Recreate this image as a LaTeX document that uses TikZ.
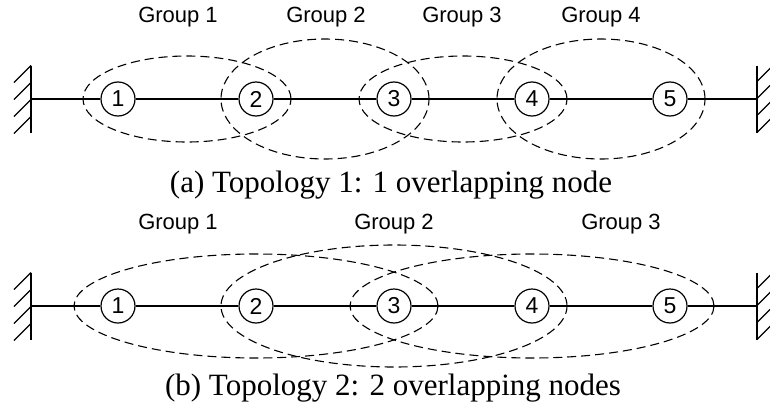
\documentclass[tikz,border=0pt]{standalone}
\usepackage{fontspec}
\setmainfont{Liberation Serif}
\setsansfont{Liberation Sans}
\usetikzlibrary{calc}

\begin{document}
\begin{tikzpicture}[x=1pt,y=1pt,mass/.style={shape=circle,draw=black,line width=1.2pt,minimum size=34pt,inner sep=0pt,font=\sffamily\fontsize{23}{26}\selectfont},grp/.style={dash pattern=on 9pt off 5pt,line width=1.1pt},glabel/.style={anchor=base,font=\sffamily\fontsize{22}{26}\selectfont},capt/.style={anchor=base,font=\fontsize{31}{36}\selectfont},wall/.style={line width=1.3pt}]
\useasboundingbox (0,0) rectangle (770,408);
\def\dx{138};
\def\xa{118};
\def\ya{309};
\def\yb{102};
\def\hw{33.5};
\def\xl{31};
\def\xr{757};

% topology 1
\foreach \i in {1,...,5}
  \node[mass] (a\i) at ({\xa+(\i-1)*\dx},\ya) {\i};
\coordinate (wa1) at (\xl,\ya);
\coordinate (wa2) at (\xr,\ya);
\draw[wall] (\xl,\ya+\hw) -- (\xl,\ya-\hw);
\draw[wall] (\xr,\ya+\hw) -- (\xr,\ya-\hw);
\foreach \k in {0,...,3} {
  \draw[wall] (\xl,\ya+\hw-17*\k) -- ++(-17,-17);
  \draw[wall] (\xr,\ya-\hw+17*\k) -- ++(17,17);
}
\draw[line width=1.2pt] (wa1) -- (a1) -- (a2) -- (a3) -- (a4) -- (a5) -- (wa2);

\draw[grp] ($(a1)!0.5!(a2)$) ellipse [x radius=104,y radius=43];
\draw[grp] ($(a2)!0.5!(a3)$) ellipse [x radius=104,y radius=60];
\draw[grp] ($(a3)!0.5!(a4)$) ellipse [x radius=104,y radius=43];
\draw[grp] ($(a4)!0.5!(a5)$) ellipse [x radius=104,y radius=60];

\node[glabel] (la1) at (178,385) {Group 1};
\node[glabel] (la2) at (326,385) {Group 2};
\node[glabel] (la3) at (462,385) {Group 3};
\node[glabel] (la4) at (601,385) {Group 4};

\node[capt] (capa) at (391,216) {(a) Topology 1: 1 overlapping node};

% topology 2
\foreach \i in {1,...,5}
  \node[mass] (b\i) at ({\xa+(\i-1)*\dx},\yb) {\i};
\coordinate (wb1) at (\xl,\yb);
\coordinate (wb2) at (\xr,\yb);
\draw[wall] (\xl,\yb+\hw) -- (\xl,\yb-\hw);
\draw[wall] (\xr,\yb+\hw) -- (\xr,\yb-\hw);
\foreach \k in {0,...,3} {
  \draw[wall] (\xl,\yb+\hw-17*\k) -- ++(-17,-17);
  \draw[wall] (\xr,\yb-\hw+17*\k) -- ++(17,17);
}
\draw[line width=1.2pt] (wb1) -- (b1) -- (b2) -- (b3) -- (b4) -- (b5) -- (wb2);

\draw[grp] (b2) ellipse [x radius=182,y radius=52];
\draw[grp] (b3) ellipse [x radius=173,y radius=61];
\draw[grp] (b4) ellipse [x radius=182,y radius=52];

\node[glabel] (lb1) at (178,179) {Group 1};
\node[glabel] (lb2) at (394,179) {Group 2};
\node[glabel] (lb3) at (621,179) {Group 3};

\node[capt] (capb) at (393,13) {(b) Topology 2: 2 overlapping nodes};
\end{tikzpicture}
\end{document}
